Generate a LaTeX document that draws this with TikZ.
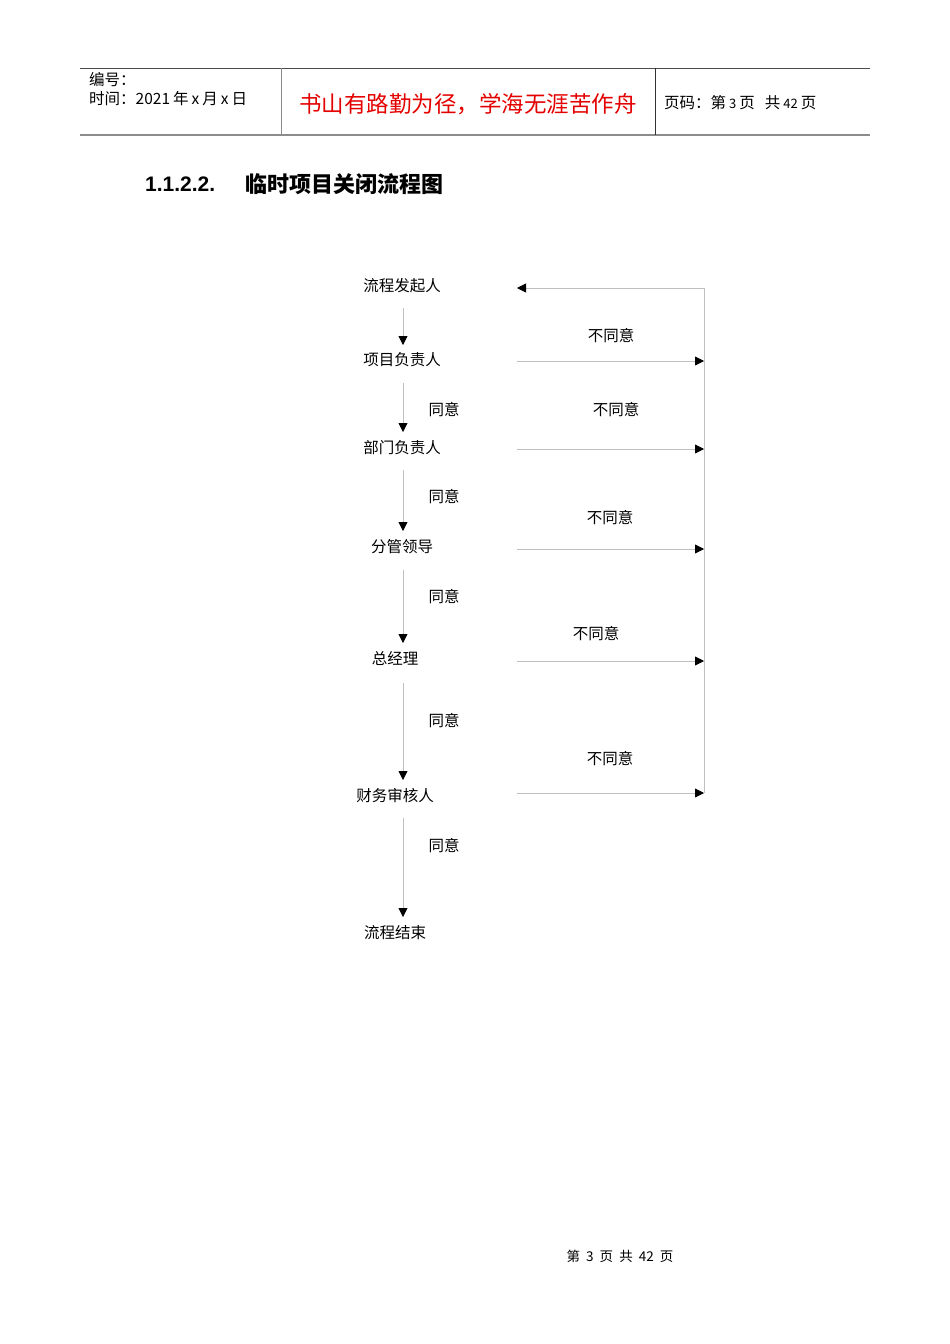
\documentclass[tikz,border=0pt]{standalone}
\usepackage{fontspec}
\setmainfont{Liberation Sans}
\newfontfamily\cjk{Noto Sans CJK SC}
\usetikzlibrary{arrows.meta}
\begin{document}
\begin{tikzpicture}[x=1pt,y=-1pt,
  lbl/.style={font=\cjk\fontsize{15.5}{17}\selectfont, inner sep=0pt},
  hdr/.style={anchor=west, font=\cjk\fontsize{15.5}{17}\selectfont, inner sep=0pt},
  flow/.style={draw=black!25, line width=0.8pt, -{Triangle[color=black,length=9pt,width=9pt]}},
  plain/.style={draw=black!25, line width=0.8pt}]
\useasboundingbox[fill=white] (0,0) rectangle (950,1344);
% header
\draw[black!70, line width=0.8pt] (80,68) -- (870,68);
\draw[black!45, line width=1.6pt] (80,135) -- (870,135);
\draw[black!45, line width=0.9pt] (281,68) -- (281,135);
\draw[black!80, line width=0.7pt] (655,68) -- (655,135);
\node[hdr] (hid) at (89,80) {编号：};
\node[hdr] (htime) at (89,99) {时间：2021\hspace{3pt}年\hspace{3pt}x\hspace{3pt}月\hspace{3pt}x\hspace{3pt}日};
\node[font=\cjk\fontsize{22.5}{24}\selectfont, text=red!90!black, inner sep=0pt] (motto) at (468,104) {书山有路勤为径，学海无涯苦作舟};
\node[hdr] (hpage) at (664,103) {页码：第\hspace{3pt}{\fontsize{13}{14}\selectfont 3}\hspace{3pt}页\hspace{10pt}共\hspace{3pt}{\fontsize{13}{14}\selectfont 42}\hspace{3pt}页};
% title
\node[anchor=west, font=\bfseries\fontsize{21}{23}\selectfont, inner sep=0pt] (tnum) at (145,184) {1.1.2.2.};
\node[anchor=west, font=\cjk\bfseries\fontsize{22}{24}\selectfont, inner sep=0pt] (ttext) at (245,184) {临时项目关闭流程图};
% nodes
\node[lbl] (n1) at (402,286) {流程发起人};
\node[lbl] (n2) at (402,360) {项目负责人};
\node[lbl] (n3) at (402,448) {部门负责人};
\node[lbl] (n4) at (402,547) {分管领导};
\node[lbl] (n5) at (395,659) {总经理};
\node[lbl] (n6) at (395,796) {财务审核人};
\node[lbl] (n7) at (395,933) {流程结束};
% vertical coordinates
\coordinate (a1) at (403,308); \coordinate (b1) at (403,345);
\coordinate (a2) at (403,383); \coordinate (b2) at (403,432);
\coordinate (a3) at (403,470); \coordinate (b3) at (403,531);
\coordinate (a4) at (403,570); \coordinate (b4) at (403,643);
\coordinate (a5) at (403,683); \coordinate (b5) at (403,780);
\coordinate (a6) at (403,818); \coordinate (b6) at (403,917);
\foreach \i in {1,...,6} {\draw[flow] (a\i) -- (b\i);}
% agree labels
\node[lbl] (y2) at (444,410) {同意};
\node[lbl] (y3) at (444,497) {同意};
\node[lbl] (y4) at (444,597) {同意};
\node[lbl] (y5) at (444,721) {同意};
\node[lbl] (y6) at (444,846) {同意};
% reject lines
\coordinate (top) at (704,288);
\coordinate (ret) at (517,288);
\coordinate (s2) at (517,361); \coordinate (e2) at (704,361);
\coordinate (s3) at (517,449); \coordinate (e3) at (704,449);
\coordinate (s4) at (517,549); \coordinate (e4) at (704,549);
\coordinate (s5) at (517,661); \coordinate (e5) at (704,661);
\coordinate (s6) at (517,793); \coordinate (e6) at (704,793);
\foreach \i in {2,...,6} {\draw[flow] (s\i) -- (e\i);}
\draw[plain] (e6) -- (top);
\draw[flow] (top) -- (ret);
\node[lbl] (r2) at (611,336) {不同意};
\node[lbl] (r3) at (616,410) {不同意};
\node[lbl] (r4) at (610,518) {不同意};
\node[lbl] (r5) at (596,634) {不同意};
\node[lbl] (r6) at (610,759) {不同意};
% footer
\node[font=\cjk\fontsize{13.5}{15}\selectfont, inner sep=0pt] (foot) at (620,1256) {第\ \ 3\ \ 页\ \ 共\ \ 42\ \ 页};
\end{tikzpicture}
\end{document}
